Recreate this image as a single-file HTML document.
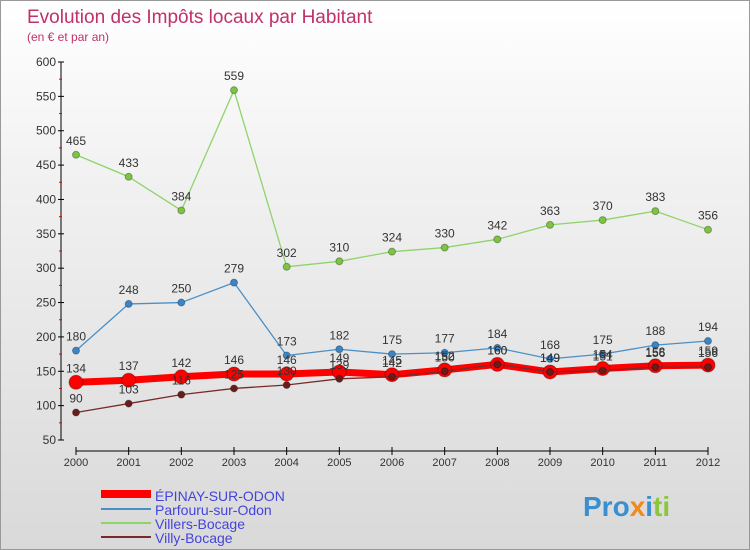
<!DOCTYPE html>
<html><head><meta charset="utf-8"><style>
body{margin:0}
#c{width:750px;height:550px;position:relative;background:linear-gradient(#fff 0%,#f2f2f2 30%,#d9d9d9 100%);font-family:"Liberation Sans",sans-serif;overflow:hidden;box-sizing:border-box;border:1px solid #999}
</style></head><body>
<div id="c">
<svg id="s" width="750" height="550">
<text x="26" y="22" font-size="19" fill="#c0306a">Evolution des Impôts locaux par Habitant</text>
<text x="26" y="40" font-size="12" fill="#c0306a">(en € et par an)</text>
<g id="ax"></g><g id="ser"></g>
<g>
<rect x="100" y="489" width="50" height="8" fill="#f00"/>
<text x="154" y="500" font-size="14" fill="#4444dd">ÉPINAY-SUR-ODON</text>
<line x1="100" y1="508" x2="150" y2="508" stroke="#4a90c8" stroke-width="2"/>
<text x="154" y="514" font-size="14" fill="#4444dd">Parfouru-sur-Odon</text>
<line x1="100" y1="522" x2="150" y2="522" stroke="#8fd46a" stroke-width="2"/>
<text x="154" y="528" font-size="14" fill="#4444dd">Villers-Bocage</text>
<line x1="100" y1="536" x2="150" y2="536" stroke="#7a2a2a" stroke-width="2"/>
<text x="154" y="542" font-size="14" fill="#4444dd">Villy-Bocage</text>
</g>
<text x="582" y="515" font-size="28" font-weight="bold" fill="#3a8fd0">Pro<tspan fill="#f08a1c">x</tspan><tspan fill="#3a8fd0">i</tspan><tspan fill="#8cc63f">ti</tspan></text>
</svg>
</div>
<script>
const years=[2000,2001,2002,2003,2004,2005,2006,2007,2008,2009,2010,2011,2012];
const yTicks=[50,100,150,200,250,300,350,400,450,500,550,600];
const epinay=[134,137,142,146,146,149,145,152,160,149,154,158,159];
const parfouru=[180,248,250,279,173,182,175,177,184,168,175,188,194];
const villers=[465,433,384,559,302,310,324,330,342,363,370,383,356];
const villy=[90,103,116,125,130,139,142,150,160,149,151,156,156];
const NS="http://www.w3.org/2000/svg";
const X=i=>75+i*(632/12), Y=v=>439-(v-50)*(378/550);
function mk(t,a,p){const e=document.createElementNS(NS,t);for(const k in a)e.setAttribute(k,a[k]);p.appendChild(e);return e;}
const ax=document.getElementById('ax'), ser=document.getElementById('ser');
const yl=mk('line',{x1:60,y1:61,x2:60,y2:439,stroke:'#000'},ax);


yTicks.forEach(v=>{
 const y=Y(v);
 mk('line',{x1:57,y1:y,x2:63,y2:y,stroke:'#000'},ax);
 if(v<600) mk('line',{x1:58,y1:Y(v+25),x2:61,y2:Y(v+25),stroke:'#e00'},ax);
 const t=mk('text',{x:55,y:y+4,'font-size':12,fill:'#333','text-anchor':'end'},ax);
 t.textContent=v;
 
 
});
const xl=mk('line',{x1:75,y1:450,x2:707,y2:450,stroke:'#000'},ax);


years.forEach((yr,i)=>{
 mk('line',{x1:X(i),y1:446,x2:X(i),y2:454,stroke:'#000'},ax);
 const t=mk('text',{x:X(i),y:465,'font-size':11,fill:'#333','text-anchor':'middle'},ax);
 t.textContent=yr;
 
 
});
function series(d,name,col,w,r,dot,lab){
 const g=mk('g',{},ser);
 
 
 const p=mk('polyline',{points:d.map((v,i)=>X(i)+','+Y(v)).join(' '),fill:'none',stroke:col,'stroke-width':w,'stroke-linejoin':'round'},g);
 
 
 d.forEach((v,i)=>{
  const c=mk('circle',{cx:X(i),cy:Y(v),r:r,fill:dot,stroke:'rgba(0,0,0,0.3)'},g);
  
  
  if(lab){const t=mk('text',{x:X(i),y:Y(v)-10,'font-size':12,fill:'#333','text-anchor':'middle'},g);
  t.textContent=v;
  
  }
 });
}
series(villers,'villers','#8fd46a',1.3,3.5,'#7cc540',true);
series(parfouru,'parfouru','#4a90c8',1.3,3.5,'#3a85c8',true);
series(epinay,'epinay','#f00',7,7,'#f00',true);
series(villy,'villy','#7a2a2a',1.3,3.5,'#6a1c1c',true);
</script>
</body></html>
